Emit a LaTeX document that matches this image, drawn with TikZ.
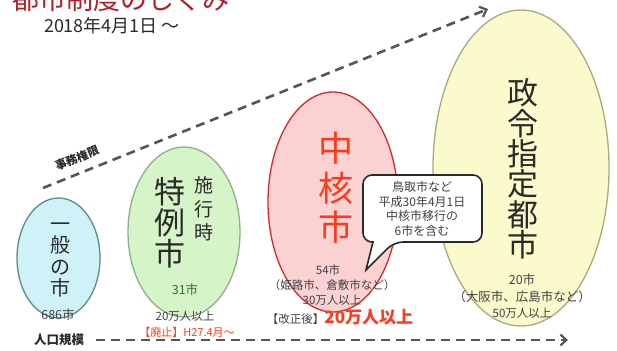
\documentclass[tikz,border=0pt]{standalone}
\usepackage{fontspec}
\setmainfont{Noto Sans CJK JP}
\usetikzlibrary{arrows.meta}
\definecolor{titlered}{HTML}{B0202A}
\definecolor{txtgray}{HTML}{2A2A2A}
\definecolor{smallgray}{HTML}{404040}
\definecolor{bluefill}{HTML}{CFF2F8}
\definecolor{blueline}{HTML}{5E8A8C}
\definecolor{greenfill}{HTML}{D5F4C8}
\definecolor{greenline}{HTML}{8FAE8C}
\definecolor{pinkfill}{HTML}{FBD2D2}
\definecolor{pinkline}{HTML}{D42A2A}
\definecolor{yellowfill}{HTML}{FAFACC}
\definecolor{yellowline}{HTML}{A9A97C}
\definecolor{brightred}{HTML}{FF3A1C}
\definecolor{dashgray}{HTML}{555555}
\tikzset{
  bigv/.style={align=center, text=txtgray, inner sep=0pt},
  small/.style={font=\fontsize{11.5}{13}\selectfont, text=smallgray, inner sep=0pt},
  dasharrow/.style={draw=dashgray, line width=2.6pt, dash pattern=on 9pt off 6pt,
    -{Straight Barb[length=6pt,width=11pt,line width=2.2pt]}},
  cityellipse/.style={line width=1.3pt}
}
\begin{document}
\begin{tikzpicture}[x=1pt,y=-1pt]
\useasboundingbox (0,0) rectangle (617,350);

% ellipses
\draw[cityellipse, draw=blueline, fill=bluefill] (58.5,258) ellipse [x radius=41.5, y radius=60];
\draw[cityellipse, draw=greenline, fill=greenfill] (184,232) ellipse [x radius=56, y radius=85];
\draw[cityellipse, draw=pinkline, fill=pinkfill] (333,202) ellipse [x radius=65, y radius=110];
\draw[cityellipse, draw=yellowline, fill=yellowfill] (521,168) ellipse [x radius=88, y radius=158];

% title
\node[anchor=base west, inner sep=0pt, text=titlered, font=\fontsize{27}{29}\selectfont] (title) at (12,10) {都市制度のしくみ};
\node[inner sep=0pt, text=txtgray, font=\fontsize{18}{20}\selectfont] (date) at (112,26) {2018年4月1日 ～};

% arrows
\coordinate (ts) at (43,188);
\coordinate (te) at (488,9);
\draw[dasharrow] (ts) -- (te);
\node[rotate=22, inner sep=0pt, font=\bfseries\fontsize{11.5}{13}\selectfont, text=txtgray] (jimu) at (77,158) {事務権限};

\coordinate (bs) at (96,340);
\coordinate (be) at (568,340);
\draw[dasharrow] (bs) -- (be);
\node[inner sep=0pt, font=\bfseries\fontsize{12.5}{14}\selectfont, text=txtgray] (jinko) at (59,340) {人口規模};

% 一般の市
\node[bigv, font=\fontsize{20}{21.3}\selectfont] (ippan) at (60,260) {一\\般\\の\\市};
\node[small, font=\fontsize{12.5}{14}\selectfont] (n686) at (58,315) {686市};

% 特例市
\node[bigv, font=\fontsize{31}{31}\selectfont] (tokurei) at (170,223) {特\\例\\市};
\node[bigv, font=\fontsize{19}{23.5}\selectfont] (shiko) at (204,209) {施\\行\\時};
\node[small, font=\fontsize{12.5}{14}\selectfont, text=green!25!smallgray] (n31) at (185,290) {31市};
\node[small] (t20) at (185,316) {20万人以上};
\node[small, font=\fontsize{11}{13}\selectfont, text=brightred] (haishi) at (187,332) {【廃止】H27.4月～};

% 中核市
\node[bigv, font=\fontsize{35}{39.5}\selectfont, text=brightred] (chukaku) at (336,188) {中\\核\\市};
\node[small] (n54) at (328,270) {54市};
\node[small] (himeji) at (332,285) {（姫路市、倉敷市など）};
\node[small] (t30) at (332,300) {30万人以上};
\node[inner sep=0pt, anchor=base] (kaisei) at (340,323) {\fontsize{11.5}{13}\selectfont\color{smallgray}【改正後】\fontsize{17}{19}\selectfont\bfseries\color{brightred}20万人以上};

% 政令指定都市
\node[bigv, font=\fontsize{31}{30.4}\selectfont] (seirei) at (523,169) {政\\令\\指\\定\\都\\市};
\node[small, font=\fontsize{12.5}{14}\selectfont] (n20) at (522,280) {20市};
\node[small, font=\fontsize{12.5}{14}\selectfont] (osaka) at (522,297) {（大阪市、広島市など）};
\node[small] (t50) at (522,313) {50万人以上};

% speech bubble
\draw[draw=txtgray, line width=1.6pt, fill=white, rounded corners=9pt]
  (363,175) -- (482,175) -- (482,242) -- (394,242) [sharp corners] -- (366,270) -- (373,242) [rounded corners=9pt] -- (363,242) -- cycle;
\node[align=center, inner sep=0pt, text=smallgray, font=\fontsize{12}{14.6}\selectfont] (bubble) at (422,209)
  {鳥取市など\\平成30年4月1日\\中核市移行の\\6市を含む};
\end{tikzpicture}
\end{document}
